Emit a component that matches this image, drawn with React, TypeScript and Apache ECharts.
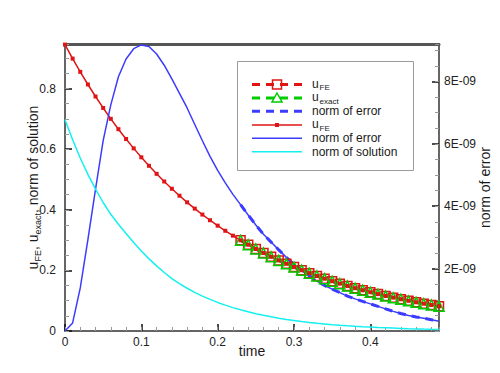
import React, { useEffect, useRef } from "react";
import * as echarts from "echarts";

const times = [
  0, 0.01, 0.02, 0.03, 0.04, 0.05, 0.06, 0.07, 0.08, 0.09,
  0.1, 0.11, 0.12, 0.13, 0.14, 0.15, 0.16, 0.17, 0.18, 0.19,
  0.2, 0.21, 0.22, 0.23, 0.24, 0.25, 0.26, 0.27, 0.28, 0.29,
  0.3, 0.31, 0.32, 0.33, 0.34, 0.35, 0.36, 0.37, 0.38, 0.39,
  0.4, 0.41, 0.42, 0.43, 0.44, 0.45, 0.46, 0.47, 0.48, 0.49,
];

const uFE = [
  0.945, 0.8989, 0.8551, 0.8134, 0.7737, 0.736, 0.7001, 0.6659, 0.6335, 0.6026,
  0.5732, 0.5452, 0.5186, 0.4933, 0.4693, 0.4464, 0.4246, 0.4039, 0.3842, 0.3655,
  0.3476, 0.3307, 0.3146, 0.2992, 0.2846, 0.2707, 0.2575, 0.245, 0.233, 0.2217,
  0.2109, 0.2006, 0.1908, 0.1815, 0.1726, 0.1642, 0.1562, 0.1486, 0.1413, 0.1344,
  0.1279, 0.1217, 0.1157, 0.1101, 0.1047, 0.0996, 0.0947, 0.0901, 0.0857, 0.0815,
];

// overlay series (dashed, with big markers) start at t = 0.23
const overlayTimes = [
  0.23, 0.24, 0.25, 0.26, 0.27, 0.28, 0.29, 0.3, 0.31, 0.32,
  0.33, 0.34, 0.35, 0.36, 0.37, 0.38, 0.39, 0.4, 0.41, 0.42,
  0.43, 0.44, 0.45, 0.46, 0.47, 0.48, 0.49,
];
const uFEOverlay = [
  0.2992, 0.2846, 0.2707, 0.2575, 0.245, 0.233, 0.2217, 0.2109, 0.2006, 0.1908,
  0.1815, 0.1726, 0.1642, 0.1562, 0.1486, 0.1413, 0.1344, 0.1279, 0.1217, 0.1157,
  0.1101, 0.1047, 0.0996, 0.0947, 0.0901, 0.0857, 0.0815,
];
const uExact = [
  0.2992, 0.2846, 0.2707, 0.2575, 0.245, 0.233, 0.2217, 0.2109, 0.2006, 0.1908,
  0.1815, 0.1726, 0.1642, 0.1562, 0.1486, 0.1413, 0.1344, 0.1279, 0.1217, 0.1157,
  0.1101, 0.1047, 0.0996, 0.0947, 0.0901, 0.0857, 0.0815,
];

const normError = [
  0, 0.26e-9, 1.38e-9, 2.93e-9, 4.55e-9, 6.1e-9, 7.25e-9, 8.15e-9, 8.72e-9, 9.05e-9,
  9.17e-9, 9.12e-9, 8.88e-9, 8.52e-9, 8.08e-9, 7.62e-9, 7.15e-9, 6.62e-9, 6.1e-9, 5.6e-9,
  5.15e-9, 4.75e-9, 4.38e-9, 4.05e-9, 3.72e-9, 3.4e-9, 3.1e-9, 2.85e-9, 2.6e-9, 2.36e-9,
  2.14e-9, 1.95e-9, 1.77e-9, 1.6e-9, 1.46e-9, 1.34e-9, 1.23e-9, 1.12e-9, 1.03e-9, 0.95e-9,
  0.87e-9, 0.79e-9, 0.71e-9, 0.63e-9, 0.56e-9, 0.5e-9, 0.45e-9, 0.41e-9, 0.36e-9, 0.31e-9,
];
const normErrorOverlay = [
  4.05e-9, 3.72e-9, 3.4e-9, 3.1e-9, 2.85e-9, 2.6e-9, 2.36e-9, 2.14e-9, 1.95e-9, 1.77e-9,
  1.6e-9, 1.46e-9, 1.34e-9, 1.23e-9, 1.12e-9, 1.03e-9, 0.95e-9, 0.87e-9, 0.79e-9, 0.71e-9,
  0.63e-9, 0.56e-9, 0.5e-9, 0.45e-9, 0.41e-9, 0.36e-9, 0.31e-9,
];

const normSolution = [
  0.697, 0.631, 0.571, 0.517, 0.468, 0.424, 0.385, 0.352, 0.322, 0.292,
  0.264, 0.238, 0.215, 0.193, 0.173, 0.156, 0.141, 0.1273, 0.1152, 0.1043,
  0.0943, 0.0854, 0.0772, 0.0699, 0.0632, 0.0572, 0.0518, 0.0468, 0.0424, 0.0383,
  0.0347, 0.0314, 0.0284, 0.0257, 0.0233, 0.021, 0.019, 0.0172, 0.0156, 0.0141,
  0.0128, 0.0115, 0.0105, 0.0095, 0.0086, 0.0077, 0.007, 0.0063, 0.0057, 0.0052,
];

// legend entries: main text and subscript
const legendMain = ["u", "u", "norm of error", "u", "norm of error", "norm of solution"];
const legendSub = ["FE", "exact", "", "FE", "", ""];

const FONT = "'Liberation Sans', Arial, Helvetica, sans-serif";
const RED = "#e01414";
const GREEN = "#00cc00";
const BLUE = "#3c3cff";
const CYAN = "#14f0f0";
const TEXT = "#1a1a1a";

const pair = (xs: number[], ys: number[]) => xs.map((x, i) => [x, ys[i]]);

export default function App() {
  const ref = useRef<HTMLDivElement>(null);

  useEffect(() => {
    if (!ref.current) return;
    const chart = echarts.init(ref.current, undefined, { renderer: "svg" });

    const nameRich = {
      u: { fontSize: 14, lineHeight: 16, verticalAlign: "top", fontFamily: FONT, color: TEXT },
      s: { fontSize: 9, lineHeight: 9, padding: [8, 0, 0, 0], verticalAlign: "bottom", fontFamily: FONT, color: TEXT },
      t: { fontSize: 14, lineHeight: 16, verticalAlign: "top", fontFamily: FONT, color: TEXT },
    };

    // legend drawn with graphic elements
    const rowsY = [84.5, 98, 111.3, 125, 138.3, 151.7];
    const lx1 = 252;
    const lx2 = 302;
    const lcx = 277;
    const legendEls: any[] = [
      {
        type: "rect",
        shape: { x: 237.5, y: 61.5, width: 176, height: 109 },
        style: { fill: "#fff", stroke: "#9a9a9a", lineWidth: 1 },
      },
      { type: "line", shape: { x1: lx1, y1: rowsY[0], x2: lx2, y2: rowsY[0] }, style: { stroke: RED, lineWidth: 3, lineDash: [8, 6] } },
      { type: "rect", shape: { x: lcx - 4.5, y: rowsY[0] - 4.5, width: 9, height: 9 }, style: { fill: "none", stroke: RED, lineWidth: 1.5 } },
      { type: "line", shape: { x1: lx1, y1: rowsY[1], x2: lx2, y2: rowsY[1] }, style: { stroke: GREEN, lineWidth: 3, lineDash: [8, 6] } },
      {
        type: "polygon",
        shape: { points: [[lcx, rowsY[1] - 5], [lcx + 5, rowsY[1] + 4], [lcx - 5, rowsY[1] + 4]] },
        style: { fill: "none", stroke: GREEN, lineWidth: 1.5 },
      },
      { type: "line", shape: { x1: lx1, y1: rowsY[2], x2: lx2, y2: rowsY[2] }, style: { stroke: BLUE, lineWidth: 3, lineDash: [8, 6] } },
      { type: "line", shape: { x1: lx1, y1: rowsY[3], x2: lx2, y2: rowsY[3] }, style: { stroke: RED, lineWidth: 1.5 } },
      { type: "rect", shape: { x: lcx - 2, y: rowsY[3] - 2, width: 4, height: 4 }, style: { fill: RED } },
      { type: "line", shape: { x1: lx1, y1: rowsY[4], x2: lx2, y2: rowsY[4] }, style: { stroke: BLUE, lineWidth: 1.5 } },
      { type: "line", shape: { x1: lx1, y1: rowsY[5], x2: lx2, y2: rowsY[5] }, style: { stroke: CYAN, lineWidth: 1.5 } },
    ];
    legendMain.forEach((lab, i) => {
      const sub = legendSub[i];
      legendEls.push({
        type: "text",
        x: 312,
        y: rowsY[i] + (sub ? -1 : 0),
        style: { text: lab, fontSize: 12, fontFamily: FONT, fill: TEXT, verticalAlign: "middle", align: "left" },
      });
      if (sub) {
        legendEls.push({
          type: "text",
          x: 319.5,
          y: rowsY[i] + 3,
          style: { text: sub, fontSize: 8, fontFamily: FONT, fill: TEXT, verticalAlign: "middle", align: "left" },
        });
      }
    });

    const axisLine = { onZero: false, lineStyle: { color: "#333", width: 1.5 } };
    const majorTick = { inside: true, length: 7, lineStyle: { color: "#111", width: 1.5 } };
    const minorTick = { inside: true, length: 4, lineStyle: { color: "#999", width: 1 } };
    const label = { color: "#222", fontSize: 12, fontFamily: FONT };

    chart.setOption({
      animation: false,
      backgroundColor: "#fff",
      grid: { left: 65, right: 61, top: 44, bottom: 42, containLabel: false, outerBoundsMode: "none" },
      xAxis: [
        {
          type: "value",
          min: 0,
          max: 0.49,
          interval: 0.1,
          position: "bottom",
          axisLine,
          axisTick: majorTick,
          axisLabel: { ...label, margin: 5, showMaxLabel: false },
          splitLine: { show: false },
          name: "time",
          nameLocation: "middle",
          nameGap: 13,
          nameMoveOverlap: false,
          nameTextStyle: { fontSize: 14, color: TEXT, fontFamily: FONT },
        },
        {
          type: "value",
          min: 0,
          max: 0.49,
          interval: 0.02,
          position: "bottom",
          axisLine: { show: false, onZero: false },
          axisTick: minorTick,
          axisLabel: { show: false },
          splitLine: { show: false },
        },
        {
          type: "value",
          min: 0,
          max: 0.49,
          position: "top",
          axisLine: { onZero: false, lineStyle: { color: "#555", width: 3 } },
          axisTick: { show: false },
          axisLabel: { show: false },
          splitLine: { show: false },
        },
      ],
      yAxis: [
        {
          type: "value",
          min: 0,
          max: 0.947,
          interval: 0.2,
          position: "left",
          axisLine,
          axisTick: majorTick,
          axisLabel: { ...label, margin: 9, showMaxLabel: false },
          splitLine: { show: false },
          name: "{u|u}{s|FE}{t|, }{u|u}{s|exact}{t|, norm of solution}",
          nameLocation: "middle",
          nameRotate: 90,
          nameGap: 23,
          nameMoveOverlap: false,
          nameTextStyle: { rich: nameRich },
        },
        {
          type: "value",
          min: 0,
          max: 9.2e-9,
          interval: 2e-9,
          position: "right",
          axisLine,
          axisTick: majorTick,
          axisLabel: {
            ...label,
            margin: 5,
            showMinLabel: false,
            showMaxLabel: false,
            formatter: (v: number) => (v === 0 ? "" : Math.round(v * 1e9) + "E-09"),
          },
          splitLine: { show: false },
          name: "norm of error",
          nameLocation: "middle",
          nameRotate: 90,
          nameGap: 39,
          nameMoveOverlap: false,
          nameTextStyle: { fontSize: 14, color: TEXT, fontFamily: FONT },
        },
        {
          type: "value",
          min: 0,
          max: 0.947,
          interval: 0.05,
          position: "left",
          axisLine: { show: false, onZero: false },
          axisTick: minorTick,
          axisLabel: { show: false },
          splitLine: { show: false },
        },
        {
          type: "value",
          min: 0,
          max: 9.2e-9,
          interval: 0.5e-9,
          position: "right",
          axisLine: { show: false, onZero: false },
          axisTick: minorTick,
          axisLabel: { show: false },
          splitLine: { show: false },
        },
      ],
      series: [
        {
          name: "u_FE (overlay)",
          type: "line",
          xAxisIndex: 0,
          yAxisIndex: 0,
          data: pair(overlayTimes, uFEOverlay),
          symbol: "rect",
          symbolSize: 9,
          showAllSymbol: true,
          lineStyle: { color: RED, width: 3, type: [8, 6] },
          itemStyle: { color: "rgba(0,0,0,0)", borderColor: RED, borderWidth: 1.5 },
          emphasis: { disabled: true },
        },
        {
          name: "u_exact",
          type: "line",
          xAxisIndex: 0,
          yAxisIndex: 0,
          data: pair(overlayTimes, uExact),
          symbol: "triangle",
          symbolSize: 10,
          showAllSymbol: true,
          lineStyle: { color: GREEN, width: 3, type: [8, 6] },
          itemStyle: { color: "rgba(0,0,0,0)", borderColor: GREEN, borderWidth: 1.5 },
          emphasis: { disabled: true },
        },
        {
          name: "norm of error (overlay)",
          type: "line",
          xAxisIndex: 0,
          yAxisIndex: 1,
          data: pair(overlayTimes, normErrorOverlay),
          symbol: "none",
          lineStyle: { color: BLUE, width: 3, type: [8, 6] },
          emphasis: { disabled: true },
        },
        {
          name: "u_FE",
          type: "line",
          xAxisIndex: 0,
          yAxisIndex: 0,
          data: pair(times, uFE),
          symbol: "rect",
          symbolSize: 4,
          showAllSymbol: true,
          lineStyle: { color: RED, width: 1.5 },
          itemStyle: { color: RED },
          emphasis: { disabled: true },
        },
        {
          name: "norm of error",
          type: "line",
          xAxisIndex: 0,
          yAxisIndex: 1,
          data: pair(times, normError),
          symbol: "none",
          lineStyle: { color: BLUE, width: 1.5 },
          emphasis: { disabled: true },
        },
        {
          name: "norm of solution",
          type: "line",
          xAxisIndex: 0,
          yAxisIndex: 0,
          data: pair(times, normSolution),
          symbol: "none",
          lineStyle: { color: CYAN, width: 1.5 },
          emphasis: { disabled: true },
        },
      ],
      graphic: legendEls,
    });

    return () => chart.dispose();
  }, []);

  return (
    <div
      ref={ref}
      style={{ position: "fixed", left: 0, top: 0, width: 500, height: 373, background: "#fff" }}
    />
  );
}
